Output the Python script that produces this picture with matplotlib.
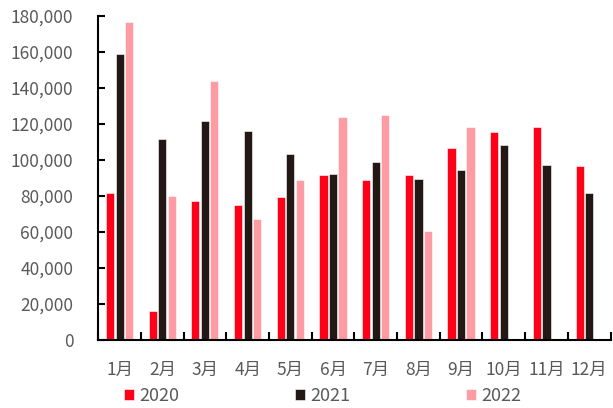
#!/usr/bin/env python3
"""Monthly volume by year, 2020-2022 (grouped bars)."""

import matplotlib
matplotlib.use("Agg")
import matplotlib.pyplot as plt
import numpy as np
from matplotlib.ticker import FuncFormatter

plt.rcParams["font.family"] = ["Noto Sans CJK SC", "DejaVu Sans"]

months = ["1月", "2月", "3月", "4月", "5月", "6月", "7月", "8月", "9月", "10月", "11月", "12月"]
years = ["2020", "2021", "2022"]
v2020 = [81500, 16300, 77200, 74800, 79300, 91600, 88900, 91500, 106300, 115700, 118100, 96800]
v2021 = [158900, 111300, 121700, 116100, 103500, 92200, 98900, 89300, 94300, 108100, 97000, 81700]
v2022 = [176500, 80200, 143900, 67000, 88900, 123500, 125000, 60600, 118300, np.nan, np.nan, np.nan]
colors = ["#FF0019", "#231815", "#FF9BA3"]

fig = plt.figure(figsize=(6.13, 4.08), dpi=100)
ax = fig.add_axes([0.1604, 0.1667, 0.8356, 0.7948])

x = np.arange(len(months))
offsets = [-0.225, 0.0, 0.22]
for vals, off, col, lab in zip([v2020, v2021, v2022], offsets, colors, years):
    ax.bar(x + off, vals, width=0.19, color=col, edgecolor="white", linewidth=0.4, label=lab)

ax.set_xlim(-0.5, len(months) - 0.5)
ax.set_ylim(0, 180000)
ax.set_yticks(np.arange(0, 180001, 20000))
ax.yaxis.set_major_formatter(FuncFormatter(lambda v, p: f"{int(v):,}"))

# month labels centred, tick marks on the category boundaries
ax.set_xticks(x)
ax.set_xticklabels(months)
ax.set_xticks(np.arange(-0.5, len(months)), minor=True)
ax.tick_params(axis="x", which="major", length=0, pad=15, labelsize=12.5, labelcolor="#595959")
ax.tick_params(axis="x", which="minor", direction="in", length=6, width=1.5, color="black")
ax.tick_params(axis="y", direction="in", length=5, width=1.5, pad=18, labelsize=12.5, labelcolor="#595959")

for s in ["top", "right"]:
    ax.spines[s].set_visible(False)
for s in ["left", "bottom"]:
    ax.spines[s].set_linewidth(1.5)
    ax.spines[s].set_color("black")

leg = fig.legend(
    loc="center",
    bbox_to_anchor=(0.526, 0.029),
    ncol=3,
    frameon=False,
    fontsize=13,
    handlelength=0.55,
    handleheight=0.55,
    handletextpad=0.3,
    columnspacing=6.4,
)
for t in leg.get_texts():
    t.set_color("#595959")

fig.savefig("out.png", dpi=100)
